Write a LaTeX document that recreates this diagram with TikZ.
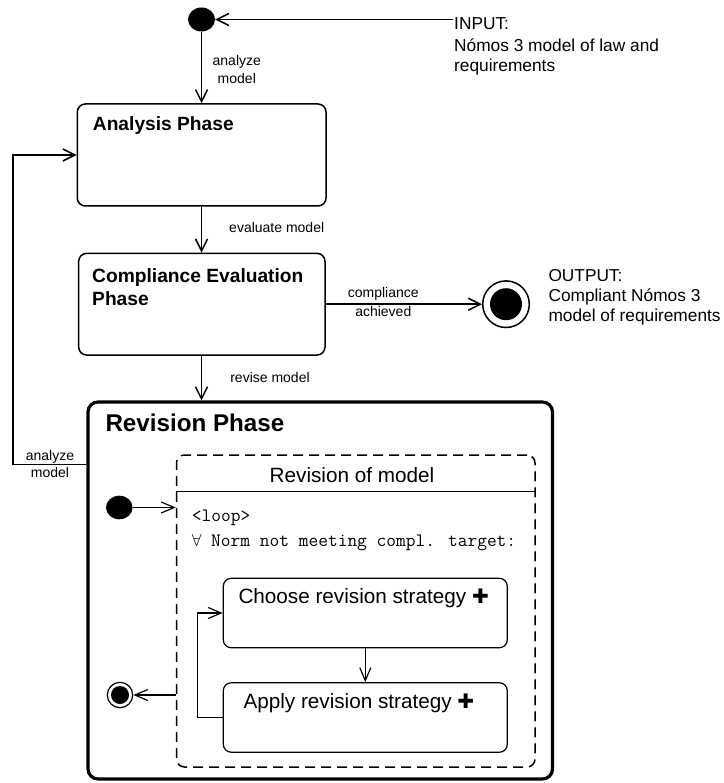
\documentclass[tikz,border=0pt]{standalone}
\usepackage{fontspec}
\setmainfont{Liberation Sans}
\newfontfamily\symfam{DejaVu Sans}
\usetikzlibrary{arrows.meta,shapes.geometric}

\newcommand\fLbl{\fontsize{14}{16}\selectfont}
\newcommand\fIO{\fontsize{17.3}{20}\selectfont}
\newcommand\fTitle{\fontsize{19.2}{22}\selectfont\bfseries}
\newcommand\fBig{\fontsize{24.2}{28}\selectfont\bfseries}
\newcommand\fSub{\fontsize{20.7}{24}\selectfont}
\newcommand\fCode{\fontsize{18.9}{22}\selectfont\ttfamily}
\newcommand\heavyplus{{\fontsize{20}{20}\selectfont\symfam ✚}}

\tikzset{
  conn/.style={draw, line width=1.5pt, -{Straight Barb[length=12pt,width=12pt]}},
  iconn/.style={draw, line width=1.2pt, -{Straight Barb[length=13pt,width=11pt]}},
  phasebox/.style={draw, rectangle, rounded corners=8pt, line width=1.5pt, inner sep=0pt, fill=white},
  actbox/.style={draw, rectangle, rounded corners=8pt, line width=1.2pt, inner sep=0pt,
    minimum width=284pt, minimum height=69.5pt},
  initdot/.style={ellipse, fill=black, inner sep=0pt},
  txt/.style={inner sep=0pt, anchor=base west},
  ctxt/.style={inner sep=0pt, anchor=base},
}

\begin{document}
\begin{tikzpicture}[x=1pt,y=-1pt]
\useasboundingbox (0,0) rectangle (723,783);

% ---------- top level states ----------
\node[initdot, minimum width=27pt, minimum height=24pt] (top) at (201.5,19.5) {};

\node[phasebox, minimum width=248.7pt, minimum height=102pt] (ana) at (201.65,155) {};
\node[txt, font=\fTitle] (anaT) at (92.7,130.7) {Analysis Phase};

\node[phasebox, minimum width=246.3pt, minimum height=101.7pt] (comp) at (201.85,304.2) {};
\node[txt, font=\fTitle] (compT1) at (92,282.7) {Compliance Evaluation};
\node[txt, font=\fTitle] (compT2) at (92,305) {Phase};

% final state
\node[circle, draw, line width=1.5pt, minimum size=46.6pt, inner sep=0pt] (fin) at (506,304.2) {};
\node[circle, fill=black, minimum size=32pt, inner sep=0pt] (finC) at (fin) {};

% revision phase (composite state)
\node[draw, rectangle, rounded corners=10pt, line width=3.2pt, inner sep=0pt,
      minimum width=464.5pt, minimum height=377pt] (rev) at (320.25,590.5) {};
\node[txt, font=\fBig] (revT) at (105.3,431) {Revision Phase};

% ---------- input / output texts ----------
\coordinate (inpt) at (453,19.5);
\node[txt, font=\fIO] (in1) at (454,29.3) {INPUT:};
\node[txt, font=\fIO] (in2) at (454,51.2) {Nómos 3 model of law and};
\node[txt, font=\fIO] (in3) at (454,72) {requirements};

\node[txt, font=\fIO] (out1) at (548.3,281.7) {OUTPUT:};
\node[txt, font=\fIO] (out2) at (548.3,301.7) {Compliant Nómos 3};
\node[txt, font=\fIO] (out3) at (548.3,321) {model of requirements};

% ---------- top level transitions ----------
\draw[conn] (inpt) -- (top.east);
\draw[conn] (top.south) -- (top.south |- ana.north);
\node[ctxt, font=\fLbl] (l1a) at (236.8,65.7) {analyze};
\node[ctxt, font=\fLbl] (l1b) at (236.8,83.3) {model};

\draw[conn] (top.south |- ana.south) -- (top.south |- comp.north);
\node[ctxt, font=\fLbl] (l2) at (276.7,232.7) {evaluate model};

\draw[conn] (comp.east) -- (fin.west);
\node[ctxt, font=\fLbl] (l3a) at (383.3,297.7) {compliance};
\node[ctxt, font=\fLbl] (l3b) at (383.3,316.7) {achieved};

\draw[conn] (top.south |- comp.south) -- (top.south |- rev.north);
\node[ctxt, font=\fLbl] (l4) at (270,382.7) {revise model};

\coordinate (fbk) at (13,464.3);
\draw[conn] (fbk -| rev.west) -- (fbk) |- (ana.west);
\node[ctxt, font=\fLbl] (l5a) at (50,460.7) {analyze};
\node[ctxt, font=\fLbl] (l5b) at (50,477.7) {model};

% ---------- inside the revision phase ----------
\node[draw, rectangle, rounded corners=8pt, line width=1.5pt, dash pattern=on 10pt off 6pt,
      inner sep=0pt, minimum width=358.5pt, minimum height=312pt] (loopbox) at (355.75,611) {};
\coordinate (hdr) at (0,491.5);
\draw[line width=1.5pt] (loopbox.west |- hdr) -- (loopbox.east |- hdr);
\node[ctxt, font=\fSub] (loopT) at (352,482) {Revision of model};

\node[txt, font=\fCode] (c1) at (191.7,521) {<loop>};
\node[txt, font=\fCode] (c2) at (191.7,546) {$\forall$ Norm not meeting compl. target:};

\node[initdot, minimum width=26.6pt, minimum height=23.6pt] (sinit) at (119.3,507.5) {};
\draw[iconn] (sinit.east) -- (sinit -| loopbox.west);

\node[actbox] (cho) at (365.3,613) {};
\node[txt, font=\fSub] (choT) at (238.3,603.3) {Choose revision strategy \heavyplus};

\node[actbox] (app) at (365.3,717.5) {};
\node[txt, font=\fSub] (appT) at (243.3,708) {Apply revision strategy \heavyplus};

\draw[iconn] (cho.south) -- (app.north);
\coordinate (lp) at (197.3,717.5);
\draw[iconn] (app.west) -- (app.west -| lp) |- (cho.west);

\node[circle, draw, line width=1.2pt, minimum size=25.4pt, inner sep=0pt] (sfin) at (120,695) {};
\node[circle, fill=black, minimum size=18pt, inner sep=0pt] (sfinC) at (sfin) {};
\draw[iconn] (sfin -| loopbox.west) -- (sfin.east);

\end{tikzpicture}
\end{document}
